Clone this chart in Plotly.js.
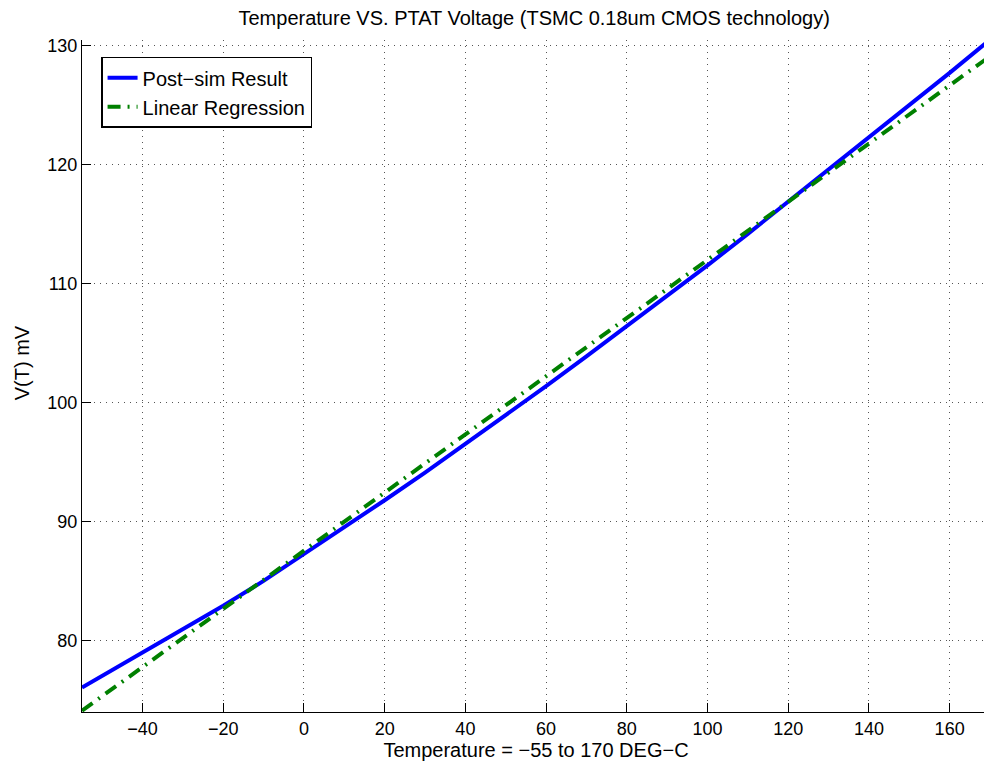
<!DOCTYPE html>
<html>
<head>
<meta charset="utf-8">
<script src="https://cdn.plot.ly/plotly-3.0.1.min.js"></script>
<style>
html,body{margin:0;padding:0;overflow:hidden;background:#fff;}
#chart{width:1000px;height:765px;}
</style>
</head>
<body>
<div id="chart"></div>
<script>
// Temperature (DEG-C)
const temperature = [-55,-40,-30,-20,-10,0,10,20,30,40,50,60,70,80,90,100,110,120,130,140,150,160,170];
// Post-sim result V(T) in mV
const postSim = [76.06,78.98,80.97,82.93,85.01,87.26,89.51,91.79,94.11,96.50,98.93,101.37,103.88,106.42,108.98,111.52,114.17,116.88,119.56,122.22,124.96,127.69,130.48];
// Linear regression V(T) in mV
const linearFit = [74.11,77.78,80.22,82.66,85.11,87.55,89.99,92.44,94.88,97.32,99.77,102.21,104.65,107.09,109.54,111.98,114.42,116.87,119.31,121.75,124.20,126.64,129.08];
const xTicks = [-40,-20,0,20,40,60,80,100,120,140,160];
const yTicks = [80,90,100,110,120,130];

const font = 'Liberation Sans, Arial, Helvetica, sans-serif';

const traces = [
  {x: temperature, y: postSim, name: 'Post\u2212sim Result', mode: 'lines',
   line: {color: '#0000ff', width: 4}},
  {x: temperature, y: linearFit, name: 'Linear Regression', mode: 'lines',
   line: {color: '#008000', width: 4, dash: '13px,7px,2px,7px'}}
];

const layout = {
  width: 1000, height: 765,
  margin: {l: 82, r: 10, t: 40, b: 53},
  paper_bgcolor: '#fff', plot_bgcolor: '#fff',
  font: {family: font, size: 18, color: '#000'},
  title: {text: 'Temperature VS. PTAT Voltage (TSMC 0.18um CMOS technology)',
          font: {family: font, size: 20, color: '#000'},
          x: 0.498, xref: 'paper', y: 0.976, yref: 'container', xanchor: 'center', yanchor: 'middle'},
  xaxis: {range: [-55, 170], tickvals: xTicks, ticks: 'inside', ticklen: 9, tickcolor: '#000',
          showline: true, linecolor: '#000', linewidth: 1, zeroline: false,
          showgrid: true, gridcolor: '#555', griddash: '1px,5px', gridwidth: 1,
          tickfont: {family: font, size: 18},
          title: {text: 'Temperature = \u221255 to 170 DEG\u2212C', font: {family: font, size: 20}, standoff: 4}},
  yaxis: {range: [74.0, 130.45], tickvals: yTicks, ticks: 'inside', ticklen: 9, tickcolor: '#000',
          showline: true, linecolor: '#000', linewidth: 1, zeroline: false,
          showgrid: true, gridcolor: '#555', griddash: '1px,5px', gridwidth: 1,
          tickfont: {family: font, size: 18}},
  annotations: [
    {text: 'V(T) mV', textangle: -90, xref: 'paper', yref: 'paper',
     x: -0.066, y: 0.519, xanchor: 'center', yanchor: 'middle', showarrow: false,
     font: {family: font, size: 20, color: '#000'}}
  ],
  legend: {x: 0.021, y: 0.975, xanchor: 'left', yanchor: 'top', bgcolor: '#fff',
           bordercolor: '#000', borderwidth: 1.5, font: {family: font, size: 20},
           tracegroupgap: 0, itemwidth: 30},
  showlegend: true
};

Plotly.newPlot('chart', traces, layout, {displayModeBar: false, staticPlot: true});
</script>
</body>
</html>
